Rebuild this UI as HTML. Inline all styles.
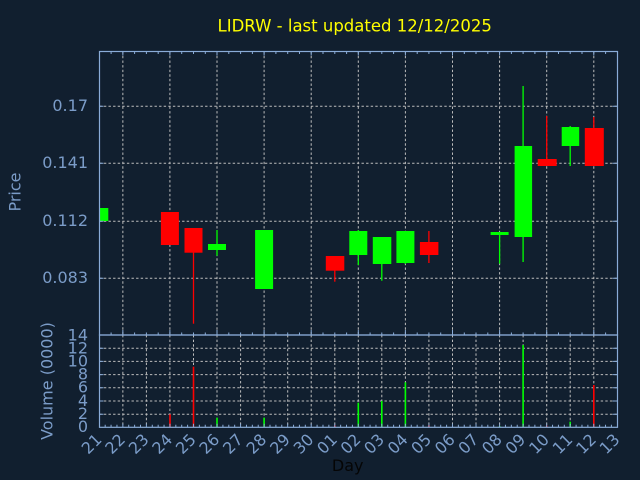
<!DOCTYPE html>
<html>
<head>
<meta charset="utf-8">
<style>
html,body{margin:0;padding:0;background:#111f2f;}
svg{display:block;}
text{font-family:"DejaVu Sans","Liberation Sans",sans-serif;}
</style>
</head>
<body>
<svg width="640" height="480" viewBox="0 0 640 480" xmlns="http://www.w3.org/2000/svg">
<rect x="0" y="0" width="640" height="480" fill="#111f2f"/>

<!-- Title -->
<text x="354.7" y="31.5" font-size="16.5" fill="#ffff00" text-anchor="middle">LIDRW - last updated 12/12/2025</text>

<!-- Grid: price panel -->
<g stroke="#bdbdbd" stroke-width="1" stroke-dasharray="2.4,2.2" fill="none">
  <line x1="99.3" y1="106.3" x2="617.3" y2="106.3"/>
  <line x1="99.3" y1="163.3" x2="617.3" y2="163.3"/>
  <line x1="99.3" y1="221.3" x2="617.3" y2="221.3"/>
  <line x1="99.3" y1="278.3" x2="617.3" y2="278.3"/>
  <line x1="122.85" y1="51.3" x2="122.85" y2="335"/>
  <line x1="169.9" y1="51.3" x2="169.9" y2="335"/>
  <line x1="217.0" y1="51.3" x2="217.0" y2="335"/>
  <line x1="264.1" y1="51.3" x2="264.1" y2="335"/>
  <line x1="311.2" y1="51.3" x2="311.2" y2="335"/>
  <line x1="358.3" y1="51.3" x2="358.3" y2="335"/>
  <line x1="405.4" y1="51.3" x2="405.4" y2="335"/>
  <line x1="452.5" y1="51.3" x2="452.5" y2="335"/>
  <line x1="499.6" y1="51.3" x2="499.6" y2="335"/>
  <line x1="546.7" y1="51.3" x2="546.7" y2="335"/>
  <line x1="593.8" y1="51.3" x2="593.8" y2="335"/>
</g>

<!-- Grid: volume panel -->
<g stroke="#bdbdbd" stroke-width="1" stroke-dasharray="2.4,2.2" fill="none">
  <line x1="99.3" y1="348.2" x2="617.3" y2="348.2"/>
  <line x1="99.3" y1="361.4" x2="617.3" y2="361.4"/>
  <line x1="99.3" y1="374.6" x2="617.3" y2="374.6"/>
  <line x1="99.3" y1="387.8" x2="617.3" y2="387.8"/>
  <line x1="99.3" y1="401.0" x2="617.3" y2="401.0"/>
  <line x1="99.3" y1="414.2" x2="617.3" y2="414.2"/>
  <line x1="122.85" y1="335" x2="122.85" y2="427.3"/>
  <line x1="146.4" y1="335" x2="146.4" y2="427.3"/>
  <line x1="169.9" y1="335" x2="169.9" y2="427.3"/>
  <line x1="193.5" y1="335" x2="193.5" y2="427.3"/>
  <line x1="217.0" y1="335" x2="217.0" y2="427.3"/>
  <line x1="240.6" y1="335" x2="240.6" y2="427.3"/>
  <line x1="264.1" y1="335" x2="264.1" y2="427.3"/>
  <line x1="287.7" y1="335" x2="287.7" y2="427.3"/>
  <line x1="311.2" y1="335" x2="311.2" y2="427.3"/>
  <line x1="334.8" y1="335" x2="334.8" y2="427.3"/>
  <line x1="358.3" y1="335" x2="358.3" y2="427.3"/>
  <line x1="381.8" y1="335" x2="381.8" y2="427.3"/>
  <line x1="405.4" y1="335" x2="405.4" y2="427.3"/>
  <line x1="428.9" y1="335" x2="428.9" y2="427.3"/>
  <line x1="452.5" y1="335" x2="452.5" y2="427.3"/>
  <line x1="476.0" y1="335" x2="476.0" y2="427.3"/>
  <line x1="499.6" y1="335" x2="499.6" y2="427.3"/>
  <line x1="523.1" y1="335" x2="523.1" y2="427.3"/>
  <line x1="546.7" y1="335" x2="546.7" y2="427.3"/>
  <line x1="570.2" y1="335" x2="570.2" y2="427.3"/>
  <line x1="593.8" y1="335" x2="593.8" y2="427.3"/>
</g>

<!-- Candles -->
<g stroke-width="1.3">
  <!-- 21 green (clipped) -->
  <rect x="99.3" y="208" width="9" height="13" fill="#00ff00"/>
  <!-- 24 red -->
  <rect x="160.9" y="212" width="18" height="33" fill="#ff0000"/>
  <!-- 25 red -->
  <line x1="193.5" y1="228" x2="193.5" y2="323.7" stroke="#ff0000"/>
  <rect x="184.5" y="228" width="18" height="24.7" fill="#ff0000"/>
  <!-- 26 green -->
  <line x1="217.0" y1="230" x2="217.0" y2="255.7" stroke="#00ff00"/>
  <rect x="208.0" y="244" width="18" height="6" fill="#00ff00"/>
  <!-- 28 green -->
  <rect x="255.1" y="230" width="18" height="59" fill="#00ff00"/>
  <!-- 01 red -->
  <line x1="334.8" y1="256" x2="334.8" y2="281.7" stroke="#ff0000"/>
  <rect x="325.8" y="256" width="18.5" height="14.7" fill="#ff0000"/>
  <!-- 02 green -->
  <line x1="358.3" y1="230" x2="358.3" y2="265" stroke="#00ff00"/>
  <rect x="349.3" y="231" width="18" height="24" fill="#00ff00"/>
  <!-- 03 green -->
  <line x1="381.8" y1="237" x2="381.8" y2="280.7" stroke="#00ff00"/>
  <rect x="372.8" y="237" width="18.5" height="27" fill="#00ff00"/>
  <!-- 04 green -->
  <line x1="405.4" y1="231" x2="405.4" y2="264" stroke="#00ff00"/>
  <rect x="396.4" y="231" width="18" height="32" fill="#00ff00"/>
  <!-- 05 red -->
  <line x1="428.9" y1="231" x2="428.9" y2="263" stroke="#ff0000"/>
  <rect x="419.9" y="242" width="18.5" height="13" fill="#ff0000"/>
  <!-- 08 green -->
  <line x1="499.6" y1="232" x2="499.6" y2="263.7" stroke="#00ff00"/>
  <rect x="490.6" y="232" width="18" height="3" fill="#00ff00"/>
  <!-- 09 green -->
  <line x1="523.1" y1="86" x2="523.1" y2="262" stroke="#00ff00"/>
  <rect x="514.6" y="146" width="17.5" height="91" fill="#00ff00"/>
  <!-- 10 red -->
  <line x1="546.7" y1="116" x2="546.7" y2="166" stroke="#ff0000"/>
  <rect x="537.7" y="159" width="19" height="7" fill="#ff0000"/>
  <!-- 11 green -->
  <line x1="570.2" y1="126" x2="570.2" y2="166" stroke="#00ff00"/>
  <rect x="561.7" y="127" width="17.5" height="19" fill="#00ff00"/>
  <!-- 12 red -->
  <line x1="593.8" y1="117" x2="593.8" y2="166" stroke="#ff0000"/>
  <rect x="584.8" y="128" width="19" height="38" fill="#ff0000"/>
</g>

<!-- Volume bars -->
<g>
  <rect x="169.2" y="414.3" width="1.6" height="13" fill="#ff0000"/>
  <rect x="192.7" y="366.7" width="1.6" height="60.6" fill="#ff0000"/>
  <rect x="216.2" y="417.7" width="1.6" height="9.6" fill="#00ff00"/>
  <rect x="263.3" y="417.7" width="1.6" height="9.6" fill="#00ff00"/>
  <rect x="334.0" y="425.3" width="1.6" height="2" fill="#ff0000"/>
  <rect x="357.5" y="402.7" width="1.6" height="24.6" fill="#00ff00"/>
  <rect x="381.0" y="401" width="1.6" height="26.3" fill="#00ff00"/>
  <rect x="404.6" y="382.3" width="1.6" height="45" fill="#00ff00"/>
  <rect x="428.1" y="425.3" width="1.6" height="2" fill="#ff0000"/>
  <rect x="498.8" y="426" width="1.6" height="1.3" fill="#00ff00"/>
  <rect x="522.3" y="345" width="1.6" height="82.3" fill="#00ff00"/>
  <rect x="545.9" y="425.5" width="1.6" height="1.8" fill="#ff0000"/>
  <rect x="569.4" y="421.7" width="1.6" height="5.6" fill="#00ff00"/>
  <rect x="593.0" y="385" width="1.6" height="42.3" fill="#ff0000"/>
</g>

<!-- Spines -->
<g stroke="#8aacd8" stroke-width="1.2" fill="none">
  <rect x="99.5" y="51.5" width="518" height="283.5"/>
  <rect x="99.5" y="335" width="518" height="92.3"/>
</g>

<!-- Ticks -->
<g stroke="#8aacd8" stroke-width="1">
  <!-- price top (minor half-day / major even days) -->
  <path d="M111.1 51.5v2.5M122.85 51.5v4M134.6 51.5v2.5M146.4 51.5v2.5M158.2 51.5v2.5M169.9 51.5v4M181.7 51.5v2.5M193.5 51.5v2.5M205.3 51.5v2.5M217.0 51.5v4M228.8 51.5v2.5M240.6 51.5v2.5M252.4 51.5v2.5M264.1 51.5v4M275.9 51.5v2.5M287.7 51.5v2.5M299.5 51.5v2.5M311.2 51.5v4M323.0 51.5v2.5M334.8 51.5v2.5M346.6 51.5v2.5M358.3 51.5v4M370.1 51.5v2.5M381.8 51.5v2.5M393.6 51.5v2.5M405.4 51.5v4M417.2 51.5v2.5M428.9 51.5v2.5M440.7 51.5v2.5M452.5 51.5v4M464.3 51.5v2.5M476.0 51.5v2.5M487.8 51.5v2.5M499.6 51.5v4M511.4 51.5v2.5M523.1 51.5v2.5M534.9 51.5v2.5M546.7 51.5v4M558.5 51.5v2.5M570.2 51.5v2.5M582.0 51.5v2.5M593.8 51.5v4M605.6 51.5v2.5"/>
  <!-- price bottom -->
  <path d="M111.1 335v-2.5M122.85 335v-5M134.6 335v-2.5M146.4 335v-2.5M158.2 335v-2.5M169.9 335v-5M181.7 335v-2.5M193.5 335v-2.5M205.3 335v-2.5M217.0 335v-5M228.8 335v-2.5M240.6 335v-2.5M252.4 335v-2.5M264.1 335v-5M275.9 335v-2.5M287.7 335v-2.5M299.5 335v-2.5M311.2 335v-5M323.0 335v-2.5M334.8 335v-2.5M346.6 335v-2.5M358.3 335v-5M370.1 335v-2.5M381.8 335v-2.5M393.6 335v-2.5M405.4 335v-5M417.2 335v-2.5M428.9 335v-2.5M440.7 335v-2.5M452.5 335v-5M464.3 335v-2.5M476.0 335v-2.5M487.8 335v-2.5M499.6 335v-5M511.4 335v-2.5M523.1 335v-2.5M534.9 335v-2.5M546.7 335v-5M558.5 335v-2.5M570.2 335v-2.5M582.0 335v-2.5M593.8 335v-5M605.6 335v-2.5"/>
  <!-- price left/right -->
  <path d="M99.5 106.3h4M99.5 163.3h4M99.5 221.3h4M99.5 278.3h4M617.5 106.3h-5M617.5 163.3h-5M617.5 221.3h-5M617.5 278.3h-5"/>
  <!-- volume left/right -->
  <path d="M99.5 348.2h4M99.5 361.4h4M99.5 374.6h4M99.5 387.8h4M99.5 401h4M99.5 414.2h4M617.5 348.2h-5M617.5 361.4h-5M617.5 374.6h-5M617.5 387.8h-5M617.5 401h-5M617.5 414.2h-5"/>
</g>
<!-- volume bottom minor ticks (quarter day) -->
<g id="vt" stroke="#8aacd8" stroke-width="1"></g>

<!-- Y labels price -->
<g font-size="16" fill="#7b9cc8" text-anchor="end">
  <text x="88" y="111">0.17</text>
  <text x="88" y="168">0.141</text>
  <text x="88" y="226">0.112</text>
  <text x="88" y="283">0.083</text>
</g>
<!-- Y labels volume -->
<g font-size="16" fill="#7b9cc8" text-anchor="end">
  <text x="88" y="340.5">14</text>
  <text x="88" y="353.5">12</text>
  <text x="88" y="366.5">10</text>
  <text x="88" y="379.5">8</text>
  <text x="88" y="392.7">6</text>
  <text x="88" y="405.8">4</text>
  <text x="88" y="419">2</text>
  <text x="88" y="432">0</text>
</g>

<!-- Axis titles -->
<text transform="translate(20.5,192) rotate(-90)" font-size="16" fill="#7b9cc8" text-anchor="middle">Price</text>
<text transform="translate(52.5,381) rotate(-90)" font-size="16" fill="#7b9cc8" text-anchor="middle">Volume (0000)</text>
<text x="347.7" y="471" font-size="16" fill="#050505" text-anchor="middle">Day</text>

<!-- X labels -->
<g font-size="16" fill="#7b9cc8" text-anchor="end">
  <text transform="translate(102.7,440.6) rotate(-45)">21</text>
  <text transform="translate(126.25,440.6) rotate(-45)">22</text>
  <text transform="translate(149.8,440.6) rotate(-45)">23</text>
  <text transform="translate(173.3,440.6) rotate(-45)">24</text>
  <text transform="translate(196.9,440.6) rotate(-45)">25</text>
  <text transform="translate(220.4,440.6) rotate(-45)">26</text>
  <text transform="translate(244.0,440.6) rotate(-45)">27</text>
  <text transform="translate(267.5,440.6) rotate(-45)">28</text>
  <text transform="translate(291.1,440.6) rotate(-45)">29</text>
  <text transform="translate(314.6,440.6) rotate(-45)">30</text>
  <text transform="translate(338.2,440.6) rotate(-45)">01</text>
  <text transform="translate(361.7,440.6) rotate(-45)">02</text>
  <text transform="translate(385.2,440.6) rotate(-45)">03</text>
  <text transform="translate(408.8,440.6) rotate(-45)">04</text>
  <text transform="translate(432.3,440.6) rotate(-45)">05</text>
  <text transform="translate(455.9,440.6) rotate(-45)">06</text>
  <text transform="translate(479.4,440.6) rotate(-45)">07</text>
  <text transform="translate(503.0,440.6) rotate(-45)">08</text>
  <text transform="translate(526.5,440.6) rotate(-45)">09</text>
  <text transform="translate(550.1,440.6) rotate(-45)">10</text>
  <text transform="translate(573.6,440.6) rotate(-45)">11</text>
  <text transform="translate(597.2,440.6) rotate(-45)">12</text>
  <text transform="translate(620.7,440.6) rotate(-45)">13</text>
</g>
</svg>
<script>
(function(){
  var g=document.getElementById('vt');var d='';
  for(var k=1;k<88;k++){var x=99.3+k*23.545/4;var len=(k%4===0)?3.5:2.5;d+='M'+x.toFixed(2)+' 427.3v-'+len;}
  var p=document.createElementNS('http://www.w3.org/2000/svg','path');p.setAttribute('d',d);g.appendChild(p);
})();
</script>
</body>
</html>
